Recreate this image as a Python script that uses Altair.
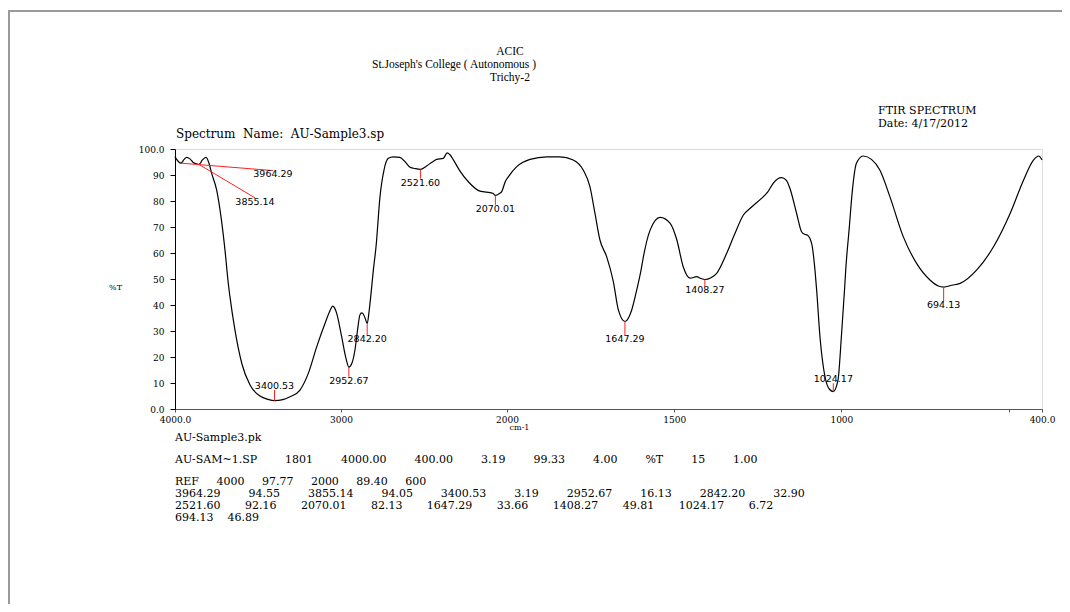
import altair as alt
import pandas as pd

# ---------------- spectrum trace (cm-1, %T) ----------------
wavenumber = [4000, 3980, 3964.29, 3945, 3930, 3910, 3890, 3870, 3855.14, 3835, 3813, 3795,
              3779, 3749, 3723, 3699, 3679, 3669, 3639, 3598, 3548, 3488, 3440, 3400.53,
              3350, 3307, 3247, 3197, 3146, 3096, 3065, 3050, 3038, 3026, 2996, 2970,
              2952.67, 2935, 2916, 2900, 2886, 2875, 2869, 2855, 2842.20, 2830, 2821, 2805,
              2789, 2765, 2741, 2715, 2685, 2645, 2614, 2584, 2555, 2521.60, 2484, 2450,
              2424, 2384, 2360, 2340, 2323, 2283, 2233, 2163, 2102, 2085, 2070.01, 2045,
              2032, 2010, 1996, 1971, 1931, 1881, 1842, 1802, 1772, 1752, 1737, 1722,
              1702, 1682, 1667, 1647.29, 1627, 1612, 1599, 1592, 1572, 1542, 1512, 1492,
              1473, 1452, 1433, 1420, 1408.27, 1390, 1373, 1343, 1320, 1293, 1270, 1239,
              1220, 1204, 1179, 1165, 1154, 1134, 1119, 1110, 1102, 1089, 1079, 1074,
              1064, 1049, 1035, 1024.17, 1010, 1000, 990, 987, 977, 967, 955, 935,
              910, 885, 855, 815, 775, 735, 710, 694.13, 670, 645, 595, 545,
              495, 455, 425, 410, 400]
transmittance = [97.0, 95.2, 94.55, 96.0, 96.8, 96.2, 94.8, 94.3, 94.05, 95.8, 96.8, 94.5,
                 90.6, 84.2, 74.0, 61.2, 48.3, 43.2, 30.4, 17.6, 9.2, 5.0, 3.7, 3.19,
                 3.6, 4.7, 7.3, 13.7, 24.0, 33.0, 38.0, 39.6, 38.8, 36.8, 27.8, 19.5,
                 16.13, 17.5, 22.7, 30.5, 36.2, 37.0, 36.8, 35.0, 32.9, 38.0, 43.2, 53.5,
                 62.4, 81.7, 91.9, 96.4, 97.0, 96.8, 95.1, 93.0, 92.5, 92.16, 93.5, 95.0,
                 96.0, 96.4, 98.5, 97.5, 95.8, 91.5, 87.4, 83.8, 83.2, 83.0, 82.13, 82.9,
                 83.6, 87.5, 89.3, 93.2, 96.0, 97.0, 97.0, 95.8, 91.9, 85.5, 75.3, 65.0,
                 58.6, 49.0, 38.1, 33.66, 38.1, 45.8, 53.5, 58.6, 68.8, 73.7, 71.4, 65.0,
                 54.7, 50.3, 50.9, 50.2, 49.81, 50.5, 52.2, 59.9, 67.0, 74.6, 77.5, 81.0,
                 83.5, 86.8, 89.0, 88.0, 84.9, 75.3, 68.2, 67.2, 66.9, 63.7, 53.5, 45.8,
                 27.8, 12.4, 7.5, 6.72, 11.2, 27.8, 47.0, 53.5, 68.8, 84.2, 94.5, 97.3,
                 96.0, 91.9, 81.7, 66.3, 56.0, 49.6, 47.3, 46.89, 47.6, 48.3, 53.5, 62.4,
                 75.3, 88.1, 95.8, 97.3, 95.8]

# ---------------- picked peaks ----------------
peak_wn = [3964.29, 3855.14, 3400.53, 2952.67, 2842.20, 2521.60, 2070.01, 1647.29, 1408.27, 1024.17, 694.13]
peak_t = [94.55, 94.05, 3.19, 16.13, 32.90, 92.16, 82.13, 33.66, 49.81, 6.72, 46.89]
peak_label_wn = [3410, 3518, 3400.53, 2952.67, 2842.20, 2521.60, 2070.01, 1647.29, 1408.27, 1024.17, 694.13]
peak_marker_end = [91.7, 81.2, 7.3, 12.4, 28.5, 88.6, 78.5, 28.5, 47.0, 9.9, 41.3]
peak_label_t = [90.2, 79.7, 9.0, 10.9, 26.9, 87.1, 76.9, 26.9, 45.6, 11.4, 40.1]

x_ticks = [4000, 3000, 2000, 1500, 1000, 500, 400]
y_ticks = [0, 10, 20, 30, 40, 50, 60, 70, 80, 90, 100]

NB = "\u00a0"
header_lines = ["ACIC", "St.Joseph's College ( Autonomous )", "Trichy-2"]
right_lines = ["FTIR" + NB + "SPECTRUM", "Date: 4/17/2012"]
spectrum_name = "Spectrum" + NB * 2 + "Name:" + NB * 2 + "AU-Sample3.sp"
sample_file = "AU-Sample3.pk"
info_fields = ["AU-SAM~1.SP", "1801", "4000.00", "400.00", "3.19", "99.33", "4.00", "%T", "15", "1.00"]
ref_fields = ["REF", "4000", "97.77", "2000", "89.40", "600"]
peak_rows = [
    ["3964.29", "94.55", "3855.14", "94.05", "3400.53", "3.19", "2952.67", "16.13", "2842.20", "32.90"],
    ["2521.60", "92.16", "2070.01", "82.13", "1647.29", "33.66", "1408.27", "49.81", "1024.17", "6.72"],
    ["694.13", "46.89"],
]

footer_lines = [
    sample_file,
    (NB * 8).join(info_fields),
    (NB * 5).join(ref_fields),
    (NB * 8).join(peak_rows[0]),
    (NB * 7).join(peak_rows[1]),
    (NB * 4).join(peak_rows[2]),
]

spec_df = pd.DataFrame({"i": list(range(len(wavenumber))), "wn": wavenumber, "T": transmittance})
marker_df = pd.DataFrame({"wn": peak_wn, "T": peak_t, "wn_end": peak_label_wn, "T_end": peak_marker_end})
label_df = pd.DataFrame({"wn": peak_label_wn, "T": peak_label_t,
                         "label": [f"{w:.2f}" for w in peak_wn]})

SERIF = "DejaVu Serif"
TSERIF = "Liberation Serif"

xscale = alt.Scale(domain=[4000, 2000, 400], range=[0, 332, 867], nice=False, zero=False)
yscale = alt.Scale(domain=[0, 100], nice=False, zero=False)

x_axis = alt.Axis(
    values=x_ticks,
    labelExpr="datum.value == 4000 || datum.value == 400 ? format(datum.value, '.1f') : (datum.value == 500 ? '' : format(datum.value, 'd'))",
    title="cm-1", titleX=344, titleY=18, titleAlign="center", titleBaseline="middle",
    titleFont=SERIF, titleFontSize=8, titleFontWeight="normal", titleColor="black",
    grid=False, domainColor="#555", tickColor="#555", tickSize=3, labelFont=SERIF,
    labelFontSize=9, labelColor="black", labelPadding=3, labelFlush=False, labelOverlap=False,
)
y_axis = alt.Axis(
    values=y_ticks,
    labelExpr="datum.value == 100 ? '100.0' : (datum.value == 0 ? '0.0' : format(datum.value, 'd'))",
    title="%T", titleAngle=0, titleX=-60, titleY=138, titleAlign="center", titleBaseline="middle",
    titleFont=SERIF, titleFontSize=8, titleFontWeight="normal", titleColor="black",
    grid=False, domainColor="black", tickColor="black", tickSize=5, labelFont=SERIF,
    labelFontSize=9, labelColor="black", labelPadding=6, labelOverlap=False,
)


def X(field):
    return alt.X(f"{field}:Q", scale=xscale, axis=x_axis, title="cm-1")


def Y(field):
    return alt.Y(f"{field}:Q", scale=yscale, axis=y_axis, title="%T")


spectrum = alt.Chart(spec_df).mark_line(color="black", strokeWidth=1.2, interpolate="monotone").encode(
    x=X("wn"), y=Y("T"), order=alt.Order("i:Q")
)

markers = alt.Chart(marker_df).mark_rule(color="#ff2020", strokeWidth=1).encode(
    x=X("wn"), y=Y("T"), x2=alt.X2("wn_end"), y2=alt.Y2("T_end")
)

peak_labels = alt.Chart(label_df).mark_text(
    font="DejaVu Sans", fontSize=9.5, color="black", baseline="middle", align="center"
).encode(x=X("wn"), y=Y("T"), text="label:N")


def note(text, x, y, size=11, align="left", font=TSERIF):
    return alt.Chart(pd.DataFrame({"t": [text]})).mark_text(
        align=align, baseline="middle", font=font, fontSize=size, color="black"
    ).encode(x=alt.value(x), y=alt.value(y), text="t:N")


texts = [
    note(header_lines[0], 335, -97, 11.5, "center"),
    note(header_lines[1], 279, -84, 11.5, "center"),
    note(header_lines[2], 335, -71, 11.5, "center"),
    note(right_lines[0], 703, -38, 11, "left", SERIF),
    note(right_lines[1], 703, -25, 11, "left", SERIF),
    note(spectrum_name, 1, -15, 12, "left", SERIF),
]
footer_y = [289, 311, 333, 345, 357, 369]
for line, fy in zip(footer_lines, footer_y):
    texts.append(note(line, 0, fy, 11, "left", SERIF))

one = pd.DataFrame({"k": [0]})
frame_top = alt.Chart(one).mark_rule(color="#9a9a9a", strokeWidth=2).encode(
    x=alt.value(-166), x2=alt.value(900), y=alt.value(-138)
)
frame_left = alt.Chart(one).mark_rule(color="#9a9a9a", strokeWidth=2).encode(
    x=alt.value(-166), y=alt.value(-139), y2=alt.value(470)
)

chart = alt.layer(spectrum, markers, peak_labels, *texts, frame_top, frame_left).properties(
    width=867, height=260,
    autosize=alt.AutoSizeParams(type="none"),
    padding={"left": 167, "top": 141, "right": 20, "bottom": 195},
).configure_view(stroke=None).configure(background="white")

chart.save("out.html", embed_options={"renderer": "svg", "actions": False})
